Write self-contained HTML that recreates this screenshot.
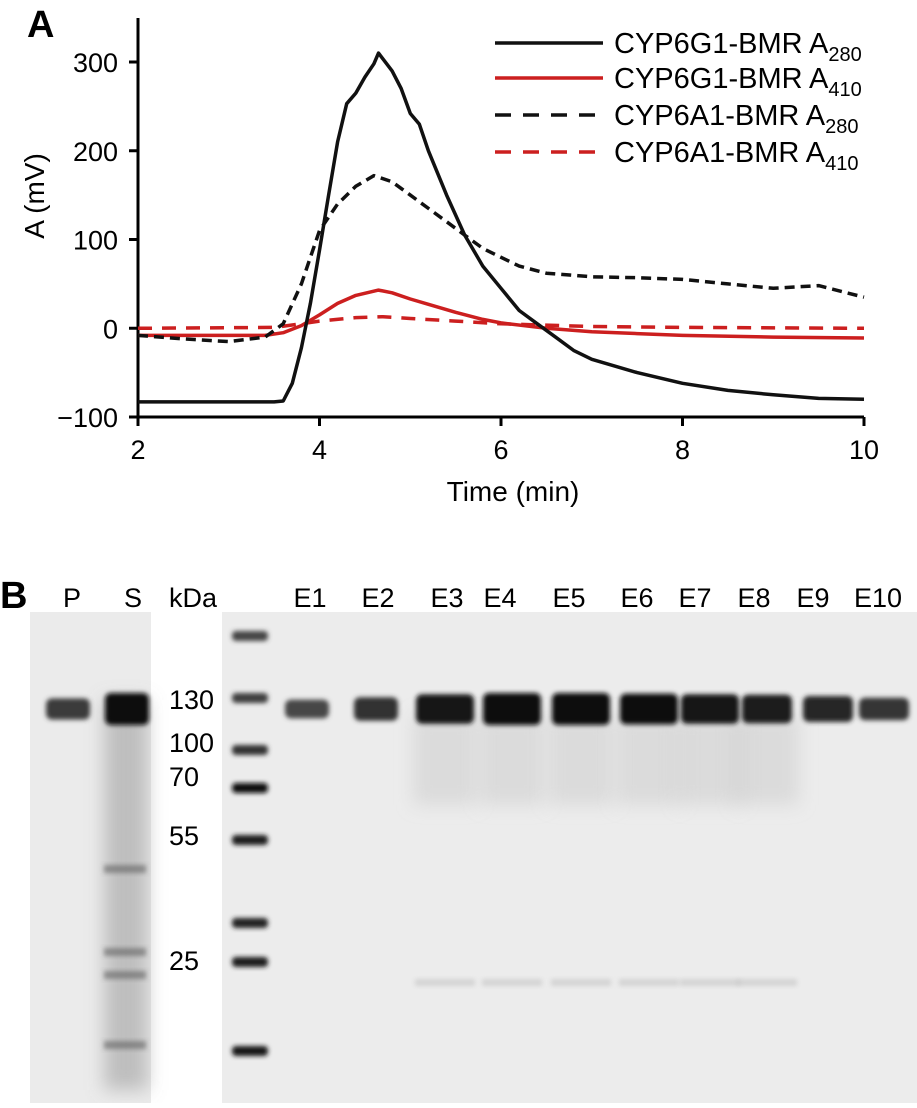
<!DOCTYPE html>
<html><head><meta charset="utf-8">
<style>
html,body{margin:0;padding:0;background:#fff;}
body{width:917px;height:1103px;overflow:hidden;font-family:"Liberation Sans",Arial,sans-serif;}
svg text{font-family:"Liberation Sans",Arial,sans-serif;}
</style></head>
<body>
<svg id="fig" width="917" height="1103" viewBox="0 0 917 1103" xmlns="http://www.w3.org/2000/svg">
<defs>
<filter id="blur2" x="-50%" y="-50%" width="200%" height="200%"><feGaussianBlur stdDeviation="2.5"/></filter>
<filter id="blur4" x="-50%" y="-50%" width="200%" height="200%"><feGaussianBlur stdDeviation="5"/></filter>
<filter id="blur8" x="-50%" y="-50%" width="200%" height="200%"><feGaussianBlur stdDeviation="9"/></filter>
</defs>
<text x="27" y="37" font-size="38" font-weight="bold">A</text>
<g id="chart"></g>
<g id="legend"></g>

<text x="0" y="608" font-size="38" font-weight="bold">B</text>
<g id="gel"></g>
</svg>
<script>
// ---- chart data ----
const xTicks = [2, 4, 6, 8, 10];
const yTicks = [-100, 0, 100, 200, 300];
const yTickLabels = ["\u2212100", "0", "100", "200", "300"];
const g1a280T = [2,3,3.5,3.6,3.7,3.8,3.9,4.0,4.1,4.2,4.3,4.4,4.5,4.6,4.65,4.8,4.9,5.0,5.1,5.2,5.4,5.6,5.8,6.0,6.2,6.4,6.6,6.8,7.0,7.5,8.0,8.5,9.0,9.5,10];
const g1a280V = [-83,-83,-83,-82,-62,-22,28,88,150,210,253,265,283,298,310,290,270,242,230,200,150,105,70,45,20,5,-10,-25,-35,-50,-62,-70,-75,-79,-80];
const g1a410T = [2,3.0,3.4,3.6,3.8,4.0,4.2,4.4,4.65,4.8,5.0,5.2,5.5,5.8,6.0,6.5,7.0,7.5,8.0,9.0,10];
const g1a410V = [-8,-8,-8,-5,3,15,28,37,43,40,33,27,18,10,6,0,-4,-6,-8,-10,-11];
const a1a280T = [2,2.5,3.0,3.4,3.6,3.8,3.9,4.0,4.2,4.4,4.6,4.8,5.0,5.2,5.4,5.6,5.8,6.0,6.2,6.5,7.0,7.5,8.0,8.5,9.0,9.5,10];
const a1a280V = [-8,-12,-15,-10,5,50,80,110,140,160,172,165,150,135,120,105,90,80,70,62,58,57,55,50,45,48,35];
const a1a410T = [2,3.5,3.8,4.0,4.4,4.7,5.0,5.5,6.0,7.0,8.0,10];
const a1a410V = [0,1,5,8,12,13,11,8,5,2,1,0];
const legendLabels = ["CYP6G1-BMR A", "CYP6G1-BMR A", "CYP6A1-BMR A", "CYP6A1-BMR A"];
const legendSubs = ["280", "410", "280", "410"];

const NS = "http://www.w3.org/2000/svg";
function mk(tag, attrs, parent){const e=document.createElementNS(NS,tag);for(const k in attrs)e.setAttribute(k,attrs[k]);parent.appendChild(e);return e;}
const X0=138, X1=864, Y0=417, Y1=62;
function xs(t){return X0+(t-2)/(10-2)*(X1-X0);}
function ys(v){return Y0+(v+100)/400*(Y1-Y0);}

const chart=document.getElementById('chart');
let ax=mk('line',{x1:X0,y1:18,x2:X0,y2:Y0+2,stroke:'#000','stroke-width':3},chart);


let bx=mk('line',{x1:X0-2,y1:Y0,x2:X1,y2:Y0,stroke:'#000','stroke-width':3},chart);


yTicks.forEach((v,i)=>{
  const y=ys(v);
  const t=mk('line',{x1:X0-9,y1:y,x2:X0,y2:y,stroke:'#000','stroke-width':3},chart);
  
  
  const l=mk('text',{x:X0-20,y:y+10,'font-size':27,'text-anchor':'end'},chart);
  
  
  l.textContent=yTickLabels[i];
});
xTicks.forEach(v=>{
  const x=xs(v);
  const t=mk('line',{x1:x,y1:Y0,x2:x,y2:Y0+9,stroke:'#000','stroke-width':3},chart);
  
  
  const l=mk('text',{x:x,y:Y0+42,'font-size':27,'text-anchor':'middle'},chart);
  
  
  l.textContent=v;
});
let xt=mk('text',{x:513,y:501,'font-size':28,'text-anchor':'middle'},chart);


xt.textContent='Time (min)';
let yt=mk('text',{x:0,y:0,'font-size':28,'text-anchor':'middle',transform:'translate(44,196) rotate(-90)'},chart);


yt.textContent='A (mV)';

const series=[
 {t:a1a410T,v:a1a410V,c:'#cc1f1f',d:'14 10',n:'series-cyp6a1-a410'},
 {t:g1a410T,v:g1a410V,c:'#cc1f1f',d:'',n:'series-cyp6g1-a410'},
 {t:a1a280T,v:a1a280V,c:'#111',d:'10 6',n:'series-cyp6a1-a280'},
 {t:g1a280T,v:g1a280V,c:'#111',d:'',n:'series-cyp6g1-a280'}
];
series.forEach(s=>{
  const pts=s.t.map((t,i)=>xs(t).toFixed(1)+','+ys(s.v[i]).toFixed(1)).join(' ');
  const p=mk('polyline',{points:pts,fill:'none',stroke:s.c,'stroke-width':3.5,'stroke-linejoin':'round'},chart);
  if(s.d)p.setAttribute('stroke-dasharray',s.d);
  
  
});

const leg=document.getElementById('legend');
const legStyles=[{c:'#111',d:''},{c:'#cc1f1f',d:''},{c:'#111',d:'16 12'},{c:'#cc1f1f',d:'16 12'}];
const legY=[43,78,115,152];
legendLabels.forEach((lab,i)=>{
  const g=mk('g',{},leg);
  
  
  const ln=mk('line',{x1:495,y1:legY[i],x2:603,y2:legY[i],stroke:legStyles[i].c,'stroke-width':3.5},g);
  if(legStyles[i].d)ln.setAttribute('stroke-dasharray',legStyles[i].d);
  const tx=mk('text',{x:614,y:legY[i]+10,'font-size':29},g);
  const t1=mk('tspan',{},tx);
  t1.textContent=lab;
  const t2=mk('tspan',{'font-size':20,dy:8},tx);
  t2.textContent=legendSubs[i];
});

// ---- gel ----
const gel=document.getElementById('gel');
const laneNames=["P","S","E1","E2","E3","E4","E5","E6","E7","E8","E9","E10"];
const laneX=[68,127,307,376,445,512,581,649,710,767,828,884];
const laneLabelX=[72,133,310,378,447,500,569,637,695,754,813,878];
const bandIntensity=[0.55,1.0,0.45,0.65,0.9,1.0,1.0,0.95,0.9,0.85,0.75,0.6];
const markerLabels=["130","100","70","55","25"];
const markerLabelY=[699,742,776,835,960];
const ladderY=[636,698,750,788,840,923,962,1051];
const ladderI=[0.55,0.6,0.7,0.95,0.85,0.8,0.85,0.9];

let bgL=mk('rect',{x:30,y:612,width:121,height:491,fill:'#ebebeb'},gel);


let bgR=mk('rect',{x:222,y:612,width:695,height:491,fill:'#ececec'},gel);



let sm=mk('rect',{x:104,y:700,width:44,height:390,fill:'#888','fill-opacity':0.45,filter:'url(#blur8)'},gel);


[869,952,975,1045].forEach(y=>{const b=mk('rect',{x:104,y:y-4,width:42,height:8,fill:'#555','fill-opacity':0.55,filter:'url(#blur2)'},gel);

});
for(let i=4;i<10;i++){const r=mk('rect',{x:laneX[i]-32,y:715,width:64,height:90,fill:'#bbb','fill-opacity':0.35,filter:'url(#blur8)'},gel);


const f=mk('rect',{x:laneX[i]-30,y:979,width:60,height:7,fill:'#bbb','fill-opacity':0.5,filter:'url(#blur2)'},gel);

}
laneNames.forEach((n,i)=>{
  const inten=bandIntensity[i];
  const w=(i<4)?44:(i<9?58:50);
  const h=8+inten*24;
  const gray=Math.round(120-inten*110);
  const b=mk('rect',{x:laneX[i]-w/2,y:709-h/2,width:w,height:h,rx:6,fill:`rgb(${gray},${gray},${gray})`,filter:'url(#blur2)'},gel);
  
  
  const lt=mk('text',{x:laneLabelX[i],y:607,'font-size':27,'text-anchor':'middle'},gel);
  
  
  lt.textContent=n;
});
let kda=mk('text',{x:193,y:607,'font-size':27,'text-anchor':'middle'},gel);


kda.textContent='kDa';
ladderY.forEach((y,i)=>{
  const g=Math.round(140-ladderI[i]*130);
  const b=mk('rect',{x:232,y:y-5,width:36,height:10,rx:4,fill:`rgb(${g},${g},${g})`,filter:'url(#blur2)'},gel);
  
  
});
markerLabels.forEach((m,i)=>{
  const t=mk('text',{x:169,y:markerLabelY[i]+10,'font-size':27},gel);
  
  
  t.textContent=m;
});
</script>
</body></html>
